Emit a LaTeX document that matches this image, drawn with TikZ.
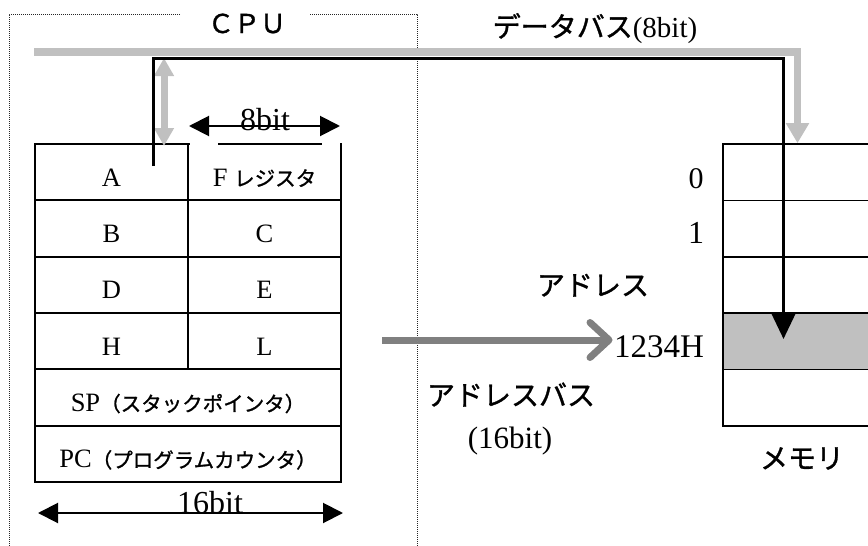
\documentclass[tikz,border=0pt]{standalone}
\usepackage{fontspec}
\setmainfont{Liberation Serif}
\newfontfamily\jp[RawFeature={embolden=1.2}]{Noto Sans CJK JP}
\usetikzlibrary{arrows.meta}
\newcommand\setfs[1]{\fontsize{#1}{#1}\selectfont}
\definecolor{busgray}{RGB}{192,192,192}
\definecolor{addrgray}{RGB}{128,128,128}
\begin{document}
\begin{tikzpicture}[x=1pt,y=-1pt,
  reg/.style={draw, line width=2pt, minimum height=56.33pt, inner sep=0pt, text height=27.67pt, text depth=0pt, font=\setfs{26.5}},
  half/.style={reg, minimum width=153pt},
  full/.style={reg, minimum width=306pt},
  mcell/.style={draw, line width=1.6pt, minimum width=149pt, minimum height=56.4pt, inner sep=0pt},
  lbl/.style={inner sep=0pt, anchor=base},
  frame/.style={line width=1pt, black!85, dash pattern=on 1pt off 1pt},
  graybus/.style={busgray, line width=7.5pt, line join=miter, -{Triangle[length=20pt,width=22pt]}},
  grayboth/.style={busgray, line width=7pt, {Triangle[length=18pt,width=19pt]}-{Triangle[length=18pt,width=19pt]}},
  databus/.style={black, line width=3pt, line join=miter, -{Triangle[length=26pt,width=24pt]}},
  abus/.style={addrgray, line width=7pt},
  dim/.style={black, line width=2pt, {Triangle[length=20pt,width=20pt]}-{Triangle[length=20pt,width=20pt]}}
]
\useasboundingbox (0,0) rectangle (868,546);
\clip (0,0) rectangle (868,546);

% CPU frame
\draw[frame] (180,14) -| (9,546);
\draw[frame] (310,14) -| (417,546);
\node[lbl] (cpu) at (247,33) {\jp\setfs{26}ＣＰＵ};

% registers
\node[half] (rA) at (111.5,172.17) {A};
\node[half] (rF) at (264.5,172.17) {F {\jp\setfs{20.5}レジスタ}};
\node[half] (rB) at (111.5,228.5) {B};
\node[half] (rC) at (264.5,228.5) {C};
\node[half] (rD) at (111.5,284.83) {D};
\node[half] (rE) at (264.5,284.83) {E};
\node[half] (rH) at (111.5,341.17) {H};
\node[half] (rL) at (264.5,341.17) {L};
\node[full] (rSP) at (188,397.5) {SP{\jp\setfs{20.5}（スタックポインタ）}};
\node[full] (rPC) at (188,453.83) {PC{\jp\setfs{20.5}（プログラムカウンタ）}};
% gaps in the top border below the 8bit label
\draw[white, line width=2.6pt] (189.6,144) -- (218,144);
\draw[white, line width=2.6pt] (322,144) -- (339.6,144);

% memory
\node[mcell] (m0) at (797.5,172.2) {};
\node[mcell] (m1) at (797.5,228.6) {};
\node[mcell] (m2) at (797.5,285) {};
\node[mcell, fill=busgray] (m3) at (797.5,341.4) {};
\node[mcell] (m4) at (797.5,397.8) {};

% coordinates
\coordinate (busL) at (34,52);
\coordinate (gTop) at (164,58);
\coordinate (gBot) at (164,146);
\coordinate (aTap) at (153.5,166);
\coordinate (bc) at (783.5,58);
\coordinate (mt) at (783.5,339);
\coordinate (abS) at (382,340);
\coordinate (abT) at (609,340);
\coordinate (abU) at (590,322.5);
\coordinate (abD) at (590,357.5);
\coordinate (d8L) at (189,126);
\coordinate (d8R) at (340,126);
\coordinate (d16L) at (38,513);
\coordinate (d16R) at (343,513);

% buses
\draw[graybus] (busL) -| (m0.north);
\draw[grayboth] (gTop) -- (gBot);
\draw[databus] (aTap) |- (bc) -- (mt);
\draw[abus] (abS) -- (abT);
\draw[abus, line cap=round, line join=round] (abU) -- (abT) -- (abD);

% dimension arrows
\node[lbl, font=\setfs{32}] (b8) at (265,130) {8bit};
\node[lbl, font=\setfs{32}] (b16) at (210,513) {16bit};
\draw[dim] (d8L) -- (d8R);
\draw[dim] (d16L) -- (d16R);

% labels
\node[lbl] (dbl) at (595,37) {{\jp\setfs{28}データバス}\setfs{29}(8bit)};
\node[lbl, font=\setfs{30}] (a0) at (696,188) {0};
\node[lbl, font=\setfs{32}] (a1) at (696,243) {1};
\node[lbl, font=\jp\setfs{28}] (adr) at (593,295.5) {アドレス};
\node[lbl, font=\setfs{33}] (addr) at (659,357) {1234H};
\node[lbl, font=\jp\setfs{28}] (ab) at (511,405.5) {アドレスバス};
\node[lbl, font=\setfs{31}] (ab16) at (510,448) {(16bit)};
\node[lbl, font=\jp\setfs{28}] (mem) at (802,468.5) {メモリ};
\end{tikzpicture}
\end{document}
